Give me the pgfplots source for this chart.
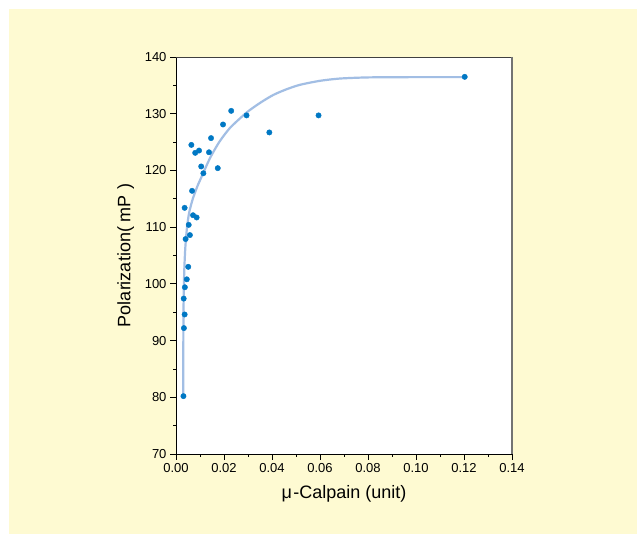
\documentclass[border=0pt]{standalone}
\usepackage{fontspec}
\setmainfont{Liberation Sans}
\usepackage{pgfplots}
\pgfplotsset{compat=1.18}
\definecolor{bgy}{HTML}{FEFAD2}
\definecolor{ptblue}{HTML}{0078C4}
\definecolor{fitblue}{HTML}{A2BEE4}
\begin{document}
\begin{tikzpicture}[x=1pt,y=1pt]
\fill[white] (0,0) rectangle (637,534);
\fill[bgy] (9,0) rectangle (637,525);
\begin{axis}[
  at={(176pt,80pt)}, anchor=south west,
  scale only axis, width=336pt, height=397pt,
  xmin=0, xmax=0.14, ymin=70, ymax=140,
  xtick={0,0.02,0.04,0.06,0.08,0.10,0.12,0.14},
  ytick={70,80,90,100,110,120,130,140},
  minor x tick num=1, minor y tick num=1,
  scaled x ticks=false,
  xtick pos=bottom, ytick pos=left,
  tick align=outside,
  major tick length=6pt, minor tick length=3pt,
  tick style={black, line width=0.8pt},
  axis line style={black, line width=0.9pt},
  axis background/.style={fill=white},
  /pgf/number format/assume math mode=true,
  xticklabel style={/pgf/number format/.cd, fixed, fixed zerofill, precision=2},
  ticklabel style={font=\fontsize{13}{15}\selectfont},
  xlabel={μ\kern1.5pt-Calpain (unit)},
  ylabel={Polarization( mP )},
  label style={font=\fontsize{18}{21}\selectfont},
  xlabel style={at={(axis description cs:0.5,-0.1008)}, anchor=center},
  ylabel style={at={(axis description cs:-0.150,0.5)}, anchor=center},
  clip=false,
]
\addplot[fitblue, line width=2.2pt, smooth, tension=0.4] coordinates {
(0.00300,80.0) (0.00305,88) (0.00310,94) (0.00325,99) (0.00350,103)
(0.00390,106.5) (0.00460,110) (0.00550,112.6) (0.0070,115.0) (0.0090,117.3)
(0.0110,119.2) (0.0142,122.2) (0.0180,125.0) (0.0225,127.5) (0.0294,130.2)
(0.0350,131.9) (0.0405,133.3) (0.0460,134.3) (0.0517,135.1) (0.0600,135.8)
(0.0683,136.2) (0.0800,136.4) (0.1000,136.45) (0.1203,136.45)
};
\addplot[only marks, mark=*, mark size=2.7pt, color=ptblue, mark options={fill=ptblue, draw=ptblue}] coordinates {
(0.0031,80.2) (0.0033,92.2) (0.0036,94.6) (0.0032,97.4) (0.0037,99.4)
(0.0045,100.8) (0.0051,103.0) (0.0040,107.9) (0.0058,108.6) (0.0053,110.4)
(0.0071,112.1) (0.0086,111.7) (0.0036,113.4) (0.0067,116.4) (0.0114,119.5)
(0.0174,120.4) (0.0105,120.7) (0.0080,123.1) (0.0096,123.5) (0.01375,123.2)
(0.0064,124.5) (0.0146,125.7) (0.0196,128.1) (0.0230,130.5) (0.0294,129.7)
(0.0389,126.7) (0.0594,129.7) (0.1203,136.5)
};
\draw[black!75, line width=0.9pt] (rel axis cs:0,1) -- (rel axis cs:1,1);
\draw[black!55, line width=1.1pt] (rel axis cs:1,1) -- (rel axis cs:1,0);
\end{axis}
\end{tikzpicture}
\end{document}
